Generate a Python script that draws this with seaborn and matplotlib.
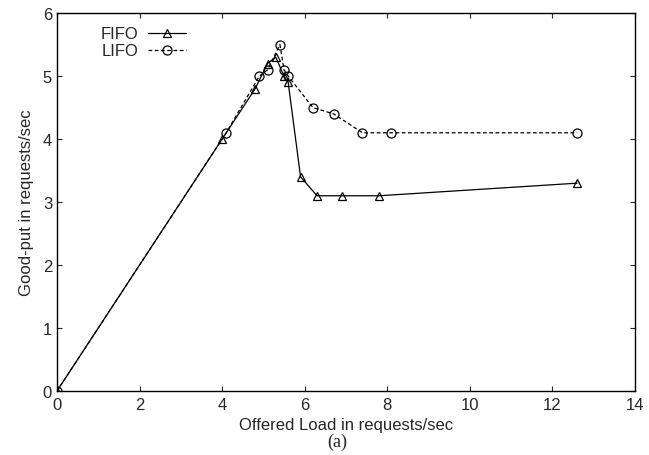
import matplotlib
matplotlib.use("Agg")
import matplotlib.pyplot as plt
import seaborn as sns
import pandas as pd

# FIFO vs LIFO good-put
fifo_load = [0.0, 4.0, 4.8, 5.1, 5.3, 5.5, 5.6, 5.9, 6.3, 6.9, 7.8, 12.6]
fifo_goodput = [0.0, 4.0, 4.8, 5.2, 5.3, 5.0, 4.9, 3.4, 3.1, 3.1, 3.1, 3.3]

lifo_load = [0.0, 4.1, 4.9, 5.1, 5.4, 5.5, 5.6, 6.2, 6.7, 7.4, 8.1, 12.6]
lifo_goodput = [0.0, 4.1, 5.0, 5.1, 5.5, 5.1, 5.0, 4.5, 4.4, 4.1, 4.1, 4.1]

x_ticks = [0, 2, 4, 6, 8, 10, 12, 14]
y_ticks = [0, 1, 2, 3, 4, 5, 6]

fifo_df = pd.DataFrame({"load": fifo_load, "goodput": fifo_goodput})
lifo_df = pd.DataFrame({"load": lifo_load, "goodput": lifo_goodput})

sns.set_style("ticks")
plt.rcParams["font.family"] = ["Liberation Sans", "DejaVu Sans"]

fig = plt.figure(figsize=(6.49, 4.56), dpi=100)
ax = fig.add_axes([0.0878, 0.1404, 0.8906, 0.8286])

sns.lineplot(data=fifo_df, x="load", y="goodput", sort=False, ax=ax,
             color="black", linewidth=0.9, marker="^", markersize=6.3,
             markerfacecolor="none", markeredgecolor="black",
             markeredgewidth=0.9, label="FIFO")
sns.lineplot(data=lifo_df, x="load", y="goodput", sort=False, ax=ax,
             color="black", linewidth=0.9, marker="o", markersize=6.5,
             markerfacecolor="none", markeredgecolor="black",
             markeredgewidth=0.9, dashes=(3, 2), label="LIFO")

ax.set_xlim(0, 14)
ax.set_ylim(0, 6)
ax.set_xticks(x_ticks)
ax.set_yticks(y_ticks)
ax.tick_params(direction="in", top=True, right=True, length=3.5,
               width=0.8, labelsize=12)
ax.tick_params(axis="x", pad=4)
ax.tick_params(axis="y", pad=3.5)
for s in ax.spines.values():
    s.set_linewidth(1.0)
    s.set_color("black")

ax.set_xlabel("Offered Load in requests/sec", fontsize=12, labelpad=4)
ax.set_ylabel("Good-put in requests/sec", fontsize=12, labelpad=6)

ax.legend(loc="upper left", bbox_to_anchor=(0.075, 0.965), frameon=False,
          markerfirst=False, fontsize=12, handlelength=2.3,
          handletextpad=0.6, labelspacing=0.12, borderpad=0, borderaxespad=0)

fig.text(0.519, 0.012, "(a)", ha="center", va="bottom", fontsize=13,
         family=["Liberation Serif", "DejaVu Serif"])

fig.savefig("out.png", dpi=100)
